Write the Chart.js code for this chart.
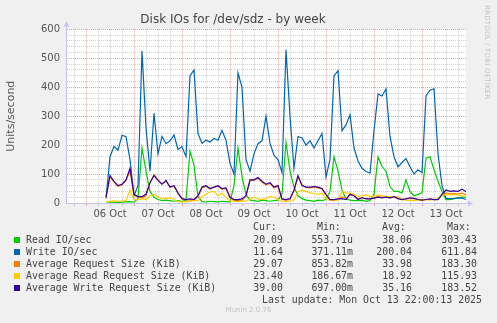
<!DOCTYPE html>
<html>
<head>
<meta charset="utf-8">
<title>Disk IOs for /dev/sdz - by week</title>
<script src="https://cdn.jsdelivr.net/npm/chart.js@4.4.1/dist/chart.umd.min.js"></script>
<style>
  html, body { margin: 0; padding: 0; background: #f0f0f0; }
  #wrap { position: relative; width: 497px; height: 323px; overflow: hidden; }
  #wrap canvas { position: absolute; left: 0; top: 0; }
  .lg { position: absolute; font-family: 'DejaVu Sans Mono', monospace; font-size: 9.9px;
        line-height: 12px; color: #444; white-space: pre; }
  .sw { position: absolute; width: 6px; height: 6px; }
  #rrd { position: absolute; left: 483px; top: 5px; writing-mode: vertical-rl;
         font: 7px 'DejaVu Sans', sans-serif; color: #c4c4c4; letter-spacing: 0.2px; }
  #munin { position: absolute; left: 0; width: 497px; top: 306px; text-align: center;
           font: 7px 'DejaVu Sans', sans-serif; color: #c4c4c4; }
</style>
</head>
<body>
<div id="wrap">
  <canvas id="chart"></canvas>
  <div id="rrd">RRDTOOL / TOBI OETIKER</div>
  <div id="legend"></div>
  <div id="munin">Munin 2.0.76</div>
</div>
<script>
'use strict';

/* ── DATA ─────────────────────────────────────────── */

const TITLE = 'Disk IOs for /dev/sdz - by week';

// hours counted from 05 Oct 00:00; graph spans 05 Oct 14:00 -> 13 Oct 22:00
const X_MIN = 14;
const X_MAX = 214;
const FIRST_SAMPLE = 34;      // first sample: 06 Oct 10:00
const SAMPLE_STEP = 2;        // one reading every 2 hours

const dayLabels = ['06 Oct', '07 Oct', '08 Oct', '09 Oct', '10 Oct', '11 Oct', '12 Oct', '13 Oct'];
const dayNoonHours = [36, 60, 84, 108, 132, 156, 180, 204];
const yLabelTicks = [0, 100, 200, 300, 400, 500, 600];

const seriesLabels = [
  'Read IO/sec',
  'Write IO/sec',
  'Average Request Size (KiB)',
  'Average Read Request Size (KiB)',
  'Average Write Request Size (KiB)',
];
const seriesColors = ['#00cc00', '#0066b3', '#ff8000', '#ffcc00', '#330099'];

const readIO = [
  5, 3, 3, 2, 3, 4, 5, 3, 15, 190,
  110, 40, 20, 12, 8, 10, 8, 6, 8, 5,
  10, 180, 130, 23, 5, 4, 6, 5, 4, 6,
  5, 4, 60, 190, 90, 30, 10, 8, 6, 10,
  8, 6, 8, 10, 30, 210, 110, 55, 25, 15,
  10, 8, 6, 10, 8, 12, 40, 160, 110, 45,
  15, 10, 8, 8, 10, 6, 8, 30, 160, 126,
  110, 57, 40, 40, 35, 80, 40, 25, 30, 35,
  155, 160, 115, 75, 40, 12, 12, 15, 18, 20,
  20,
];
const writeIO = [
  15, 160, 195, 183, 234, 229, 150, 25, 60, 525,
  260, 110, 310, 170, 230, 205, 215, 235, 185, 195,
  160, 440, 460, 240, 206, 217, 211, 223, 217, 251,
  217, 137, 100, 450, 400, 150, 110, 170, 205, 215,
  300, 206, 165, 150, 105, 530, 300, 120, 230, 225,
  200, 215, 190, 215, 240, 90, 150, 440, 457, 250,
  270, 305, 190, 145, 120, 109, 103, 250, 377, 370,
  394, 230, 160, 125, 140, 154, 125, 100, 115, 105,
  370, 390, 395, 170, 60, 15, 15, 15, 18, 17,
  12,
];
const avgRequestSize = [
  18, 90, 72, 58, 62, 78, 110, 28, 20, 18,
  25, 70, 98, 80, 66, 76, 55, 58, 33, 14,
  11, 10, 10, 20, 52, 58, 48, 55, 58, 48,
  50, 18, 10, 8, 10, 22, 78, 78, 86, 72,
  63, 68, 52, 58, 12, 10, 12, 42, 90, 62,
  54, 52, 55, 52, 48, 28, 11, 10, 12, 22,
  16, 30, 25, 14, 18, 15, 15, 17, 22, 20,
  20, 18, 20, 16, 13, 14, 16, 15, 12, 11,
  12, 13, 12, 13, 28, 35, 32, 33, 31, 34,
  29,
];
const avgReadRequestSize = [
  5, 6, 7, 6, 7, 8, 45, 12, 12, 14,
  12, 25, 30, 22, 14, 16, 18, 12, 5, 4,
  4, 6, 8, 8, 22, 30, 38, 40, 25, 34,
  18, 8, 6, 5, 6, 6, 14, 20, 14, 12,
  15, 22, 20, 12, 6, 5, 6, 10, 38, 45,
  40, 35, 32, 30, 34, 15, 10, 8, 10, 40,
  35, 34, 30, 22, 25, 28, 22, 24, 28, 26,
  22, 22, 20, 22, 12, 10, 8, 8, 10, 10,
  12, 10, 12, 15, 25, 30, 28, 30, 28, 25,
  23,
];
const avgWriteRequestSize = [
  20, 95, 75, 60, 65, 80, 120, 30, 22, 22,
  30, 70, 95, 78, 65, 78, 55, 60, 35, 15,
  12, 14, 12, 25, 55, 60, 50, 55, 60, 50,
  52, 20, 12, 12, 14, 25, 80, 80, 88, 75,
  65, 70, 55, 60, 14, 12, 15, 45, 95, 60,
  55, 55, 57, 55, 50, 30, 12, 12, 14, 15,
  12, 30, 25, 12, 18, 14, 14, 17, 20, 18,
  20, 18, 22, 15, 12, 14, 18, 16, 12, 10,
  12, 14, 12, 12, 30, 45, 40, 42, 40, 48,
  39,
];

const curValues = ['20.09', '11.64', '29.07', '23.40', '39.00'];
const minValues = ['553.71u', '371.11m', '853.82m', '186.67m', '697.00m'];
const avgValues = ['38.06', '200.04', '33.98', '18.92', '35.16'];
const maxValues = ['303.43', '611.84', '183.30', '115.93', '183.52'];
const LAST_UPDATE = 'Last update: Mon Oct 13 22:00:13 2025';

/* ── STYLE ────────────────────────────────────────── */

const GRID_MAJOR = 'rgba(225, 120, 120, 0.7)';
const GRID_MINOR = 'rgba(150, 150, 150, 0.45)';
const AXIS_COLOR = '#c4c4ee';

/* ── HELPERS ──────────────────────────────────────── */

function toPoints(values) {
  return values.map((v, i) => ({ x: FIRST_SAMPLE + i * SAMPLE_STEP, y: v }));
}

function range(from, to, step) {
  const out = [];
  for (let v = from; v <= to; v += step) out.push(v);
  return out;
}

const xGridHours = range(18, X_MAX, 6);   // every 6 hours, red at midnight
const yGridValues = range(0, 600, 20);    // every 20 units, red at hundreds

const plotBackground = {
  id: 'plotBackground',
  beforeDraw(chart) {
    const { ctx, chartArea: { left, top, right, bottom } } = chart;
    ctx.save();
    ctx.fillStyle = '#ffffff';
    ctx.fillRect(left, top, right - left, bottom - top);
    ctx.restore();
  },
};

const axisArrows = {
  id: 'axisArrows',
  afterDraw(chart) {
    const { ctx, chartArea: { left, top, right, bottom } } = chart;
    ctx.save();
    ctx.strokeStyle = AXIS_COLOR;
    ctx.fillStyle = AXIS_COLOR;
    ctx.lineWidth = 1;
    ctx.beginPath();
    ctx.moveTo(left + 0.5, top);
    ctx.lineTo(left + 0.5, top - 4);
    ctx.moveTo(right, bottom + 0.5);
    ctx.lineTo(right + 2, bottom + 0.5);
    ctx.stroke();
    ctx.beginPath();
    ctx.moveTo(left + 0.5, top - 8);
    ctx.lineTo(left - 2.5, top - 3);
    ctx.lineTo(left + 3.5, top - 3);
    ctx.closePath();
    ctx.fill();
    ctx.beginPath();
    ctx.moveTo(right + 7, bottom + 0.5);
    ctx.lineTo(right + 2, bottom - 2.5);
    ctx.lineTo(right + 2, bottom + 3.5);
    ctx.closePath();
    ctx.fill();
    ctx.restore();
  },
};

/* ── CHART ────────────────────────────────────────── */

Chart.defaults.font.family = "'DejaVu Sans', sans-serif";

const seriesValues = [readIO, writeIO, avgRequestSize, avgReadRequestSize, avgWriteRequestSize];

const datasets = seriesValues.map((values, i) => ({
  label: seriesLabels[i],
  data: toPoints(values),
  borderColor: seriesColors[i],
  backgroundColor: seriesColors[i],
  borderWidth: 1.2,
  pointRadius: 0,
  tension: 0,
  fill: false,
  order: seriesValues.length - i,   // later series drawn on top, like rrdtool
}));

new Chart(document.getElementById('chart').getContext('2d'), {
  type: 'line',
  data: { datasets },
  plugins: [plotBackground, axisArrows],
  options: {
    responsive: true,
    maintainAspectRatio: false,
    animation: false,
    events: [],
    layout: { padding: { left: 0, right: 31, top: 0, bottom: 98 } },
    plugins: {
      legend: { display: false },
      tooltip: { enabled: false },
      title: {
        display: true,
        text: TITLE,
        color: '#444',
        font: { size: 12, weight: 'normal' },
        padding: { top: 13, bottom: 2 },
      },
    },
    scales: {
      x: {
        type: 'linear',
        min: X_MIN,
        max: X_MAX,
        afterFit(scale) { scale.height = 22; },
        afterBuildTicks(scale) { scale.ticks = xGridHours.map(v => ({ value: v })); },
        ticks: {
          autoSkip: false,
          maxRotation: 0,
          padding: 2,
          color: '#555',
          font: { size: 10 },
          callback(value) {
            const i = dayNoonHours.indexOf(value);
            return i >= 0 ? dayLabels[i] : '';
          },
        },
        grid: {
          color: ctx => (ctx.tick && ctx.tick.value % 24 === 0 ? GRID_MAJOR : GRID_MINOR),
          tickColor: ctx => (ctx.tick && ctx.tick.value % 24 === 0 ? GRID_MAJOR : GRID_MINOR),
          tickLength: 3,
          lineWidth: 1,
        },
        border: { color: AXIS_COLOR, dash: [1, 1] },
      },
      y: {
        min: 0,
        max: 600,
        afterFit(scale) { scale.width = 66; },
        afterBuildTicks(scale) { scale.ticks = yGridValues.map(v => ({ value: v })); },
        ticks: {
          autoSkip: false,
          padding: 6,
          color: '#555',
          font: { size: 10 },
          callback: value => (yLabelTicks.includes(value) ? String(value) : ''),
        },
        grid: {
          color: ctx => (ctx.tick && ctx.tick.value % 100 === 0 ? GRID_MAJOR : GRID_MINOR),
          drawTicks: false,
          lineWidth: 1,
        },
        border: { color: AXIS_COLOR, dash: [1, 1] },
        title: {
          display: true,
          text: 'Units/second',
          color: '#555',
          font: { size: 11 },
          padding: { top: 5, bottom: 0 },
        },
      },
    },
  },
});

/* ── LEGEND TABLE ─────────────────────────────────── */

const legend = document.getElementById('legend');
const CANVAS_W = 497;
const HEADER_Y = 227;
const ROW_Y = [239.5, 251.5, 263.5, 275.8, 288];
const LAST_UPDATE_Y = 300;
const HEADER_X = [253, 317, 382, 447];
const HEADERS = ['Cur:', 'Min:', 'Avg:', 'Max:'];
const VALUE_RIGHT = [283, 353, 412, 477];

function addText(text, centerY, { left, right }) {
  const el = document.createElement('div');
  el.className = 'lg';
  el.textContent = text;
  el.style.top = (centerY - 6) + 'px';
  if (left !== undefined) el.style.left = left + 'px';
  if (right !== undefined) el.style.right = (CANVAS_W - right) + 'px';
  legend.appendChild(el);
}

HEADERS.forEach((h, c) => addText(h, HEADER_Y, { left: HEADER_X[c] }));

seriesLabels.forEach((label, i) => {
  const sw = document.createElement('div');
  sw.className = 'sw';
  sw.style.background = seriesColors[i];
  sw.style.left = '14px';
  sw.style.top = (ROW_Y[i] - 3) + 'px';
  legend.appendChild(sw);

  addText(label, ROW_Y[i], { left: 26 });
  [curValues, minValues, avgValues, maxValues].forEach((col, c) => {
    addText(col[i], ROW_Y[i], { right: VALUE_RIGHT[c] });
  });
});

addText(LAST_UPDATE, LAST_UPDATE_Y, { right: 482 });
</script>
</body>
</html>
